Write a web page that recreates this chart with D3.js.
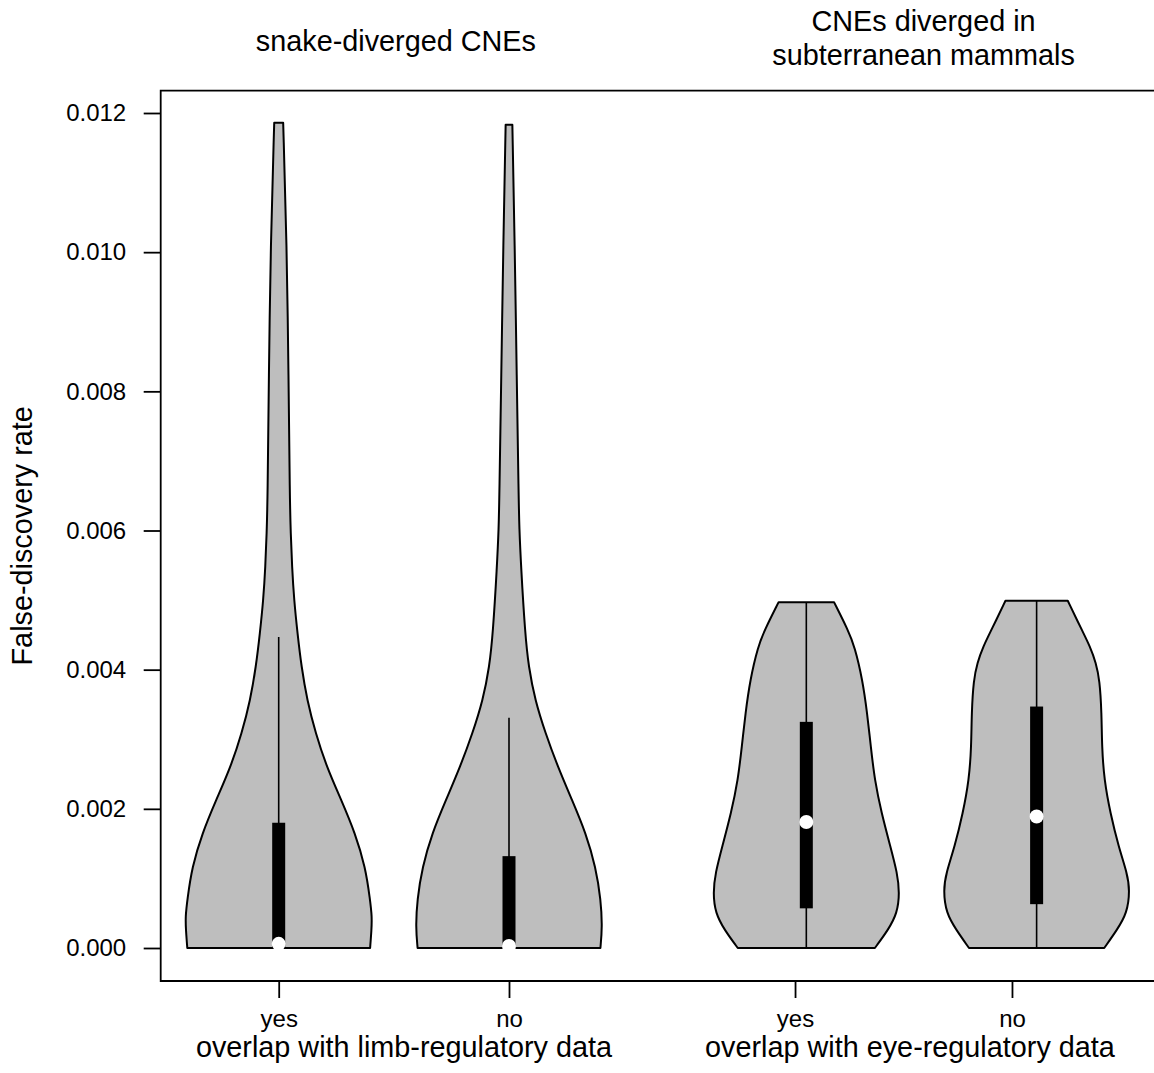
<!DOCTYPE html>
<html>
<head>
<meta charset="utf-8">
<script src="https://cdn.jsdelivr.net/npm/d3@7"></script>
<style>
  html, body { margin: 0; padding: 0; background: #fff; }
  svg { display: block; }
  text { font-family: "Liberation Sans", Arial, Helvetica, sans-serif; fill: #000; }
</style>
</head>
<body>
<svg id="chart" width="1154" height="1073"></svg>
<script>
// ---------------- data ----------------
const violinNames = ["limb yes", "limb no", "eye yes", "eye no"];
const violinAt = [1, 2, 3.291, 4.291];          // x positions (axis units)
const tickAt = [1, 2, 3.242, 4.184];            // x-axis tick positions
const tickLabels = ["yes", "no", "yes", "no"];
const groupLabels = ["overlap with limb-regulatory data", "overlap with eye-regulatory data"];
const groupLabelAt = [1.544, 3.741];
const groupTitles = [["snake-diverged CNEs"], ["CNEs diverged in", "subterranean mammals"]];
const groupTitleAt = [1.509, 3.80];
const yTicks = [0, 0.002, 0.004, 0.006, 0.008, 0.010, 0.012];
const yLabel = "False-discovery rate";

// density profiles: [FDR value, relative half-width]
const densityLimbYes = [[0, .98], [0.00026, .995], [0.00045, 1.0], [0.00069, .98], [0.00116, .93],
  [0.00165, .82], [0.00213, .67], [0.0026, .515], [0.00309, .395], [0.00356, .305], [0.00404, .244],
  [0.00453, .201], [0.005, .165], [0.00548, .143], [0.00596, .129], [0.00644, .119], [0.00821, .106],
  [0.01013, .086], [0.01186, .048]];
const densityLimbNo = [[0, .98], [0.0003, 1.0], [0.00069, .985], [0.00116, .93], [0.00165, .825],
  [0.00213, .675], [0.0026, .525], [0.00309, .39], [0.00356, .28], [0.00404, .21], [0.00453, .172],
  [0.00548, .129], [0.00605, .11], [0.00644, .104], [0.00821, .083], [0.01013, .061], [0.01183, .036]];
const densityEyeYes = [[0, .735], [0.00026, .878], [0.0005, .975], [0.00079, 1.0], [0.00108, .975],
  [0.00145, .903], [0.00194, .806], [0.00241, .733], [0.00289, .692], [0.00338, .652], [0.00385, .603],
  [0.00433, .519], [0.00457, .447], [0.00497, .297]];
const densityEyeNo = [[0, .725], [0.00026, .862], [0.0005, .97], [0.00083, 1.0], [0.00108, .97],
  [0.00145, .88], [0.00194, .79], [0.00241, .725], [0.00289, .70], [0.00338, .697], [0.00385, .676],
  [0.0041, .636], [0.00433, .574], [0.00457, .485], [0.00499, .334]];
const densities = [densityLimbYes, densityLimbNo, densityEyeYes, densityEyeNo];

const q1 = [0, 0, 0.00057, 0.00063];
const q3 = [0.0018, 0.00132, 0.00325, 0.00347];
const medians = [0.00006, 0.00003, 0.00181, 0.00189];
const whiskerLo = [0, 0, 0, 0];
const whiskerHi = [0.00447, 0.00331, 0.00497, 0.00499];

// ---------------- layout ----------------
const svg = d3.select("#chart");
const W = 1154, H = 1073;
const plotLeft = 160.7, plotTop = 90.7, plotBottom = 981, plotRight = 1175;

const y = d3.scaleLinear().domain([0, 0.012]).range([948, 113]);
const x = d3.scaleLinear().domain([1, 2]).range([278.7, 509]);
const halfMax = 0.405; // max violin half-width in axis units

svg.append("rect").attr("width", W).attr("height", H).attr("fill", "#fff");

// violins
const area = d3.area()
  .curve(d3.curveBasis)
  .y(d => y(d[0]));

densities.forEach((dens, i) => {
  const c = violinAt[i];
  svg.append("path")
    .datum(dens)
    .attr("d", area.x0(d => x(c - d[1] * halfMax)).x1(d => x(c + d[1] * halfMax)))
    .attr("fill", "#bebebe")
    .attr("stroke", "#000")
    .attr("stroke-width", 2)
    .attr("stroke-linejoin", "round");
});

// whiskers, boxes, medians
const g = svg.append("g");
violinAt.forEach((c, i) => {
  g.append("line")
    .attr("x1", x(c)).attr("x2", x(c))
    .attr("y1", y(whiskerLo[i])).attr("y2", y(whiskerHi[i]))
    .attr("stroke", "#000").attr("stroke-width", 1.6);
  g.append("rect")
    .attr("x", x(c) - 6.5).attr("width", 13)
    .attr("y", y(q3[i])).attr("height", y(q1[i]) - y(q3[i]))
    .attr("fill", "#000");
  g.append("circle")
    .attr("cx", x(c)).attr("cy", y(medians[i])).attr("r", 7)
    .attr("fill", "#fff");
});

// frame
svg.append("path")
  .attr("d", `M${plotRight},${plotTop}H${plotLeft}V${plotBottom}H${plotRight}`)
  .attr("fill", "none").attr("stroke", "#000").attr("stroke-width", 1.8);

// y axis
const yAxis = d3.axisLeft(y).tickValues(yTicks).tickFormat(d3.format(".3f"))
  .tickSize(17).tickSizeOuter(0).tickPadding(17.5);
const ya = svg.append("g").attr("transform", `translate(${plotLeft},0)`).call(yAxis);
ya.select(".domain").remove();
ya.selectAll("line").attr("stroke", "#000").attr("stroke-width", 1.8);
ya.selectAll("text").attr("font-size", 24).attr("fill", "#000")
  .attr("font-family", '"Liberation Sans", Arial, Helvetica, sans-serif');

// x axis
const xAxis = d3.axisBottom(x).tickValues(tickAt).tickFormat((d, i) => tickLabels[i])
  .tickSize(17).tickSizeOuter(0).tickPadding(11.7);
const xa = svg.append("g").attr("transform", `translate(0,${plotBottom})`).call(xAxis);
xa.select(".domain").remove();
xa.selectAll("line").attr("stroke", "#000").attr("stroke-width", 1.8);
xa.selectAll("text").attr("font-size", 24).attr("fill", "#000")
  .attr("font-family", '"Liberation Sans", Arial, Helvetica, sans-serif');

// group labels under axis
groupLabels.forEach((t, i) => {
  svg.append("text")
    .attr("x", x(groupLabelAt[i])).attr("y", 1056.7)
    .attr("text-anchor", "middle").attr("font-size", 28.8)
    .text(t);
});

// group titles above plot
groupTitles.forEach((lines, i) => {
  const baseY = lines.length === 1 ? 50.5 : 30.5;
  lines.forEach((t, j) => {
    svg.append("text")
      .attr("x", x(groupTitleAt[i])).attr("y", baseY + j * 34.5)
      .attr("text-anchor", "middle").attr("font-size", 28.8)
      .text(t);
  });
});

// y label
svg.append("text")
  .attr("transform", `translate(32,${(plotTop + plotBottom) / 2}) rotate(-90)`)
  .attr("text-anchor", "middle").attr("font-size", 28.8)
  .text(yLabel);
</script>
</body>
</html>
